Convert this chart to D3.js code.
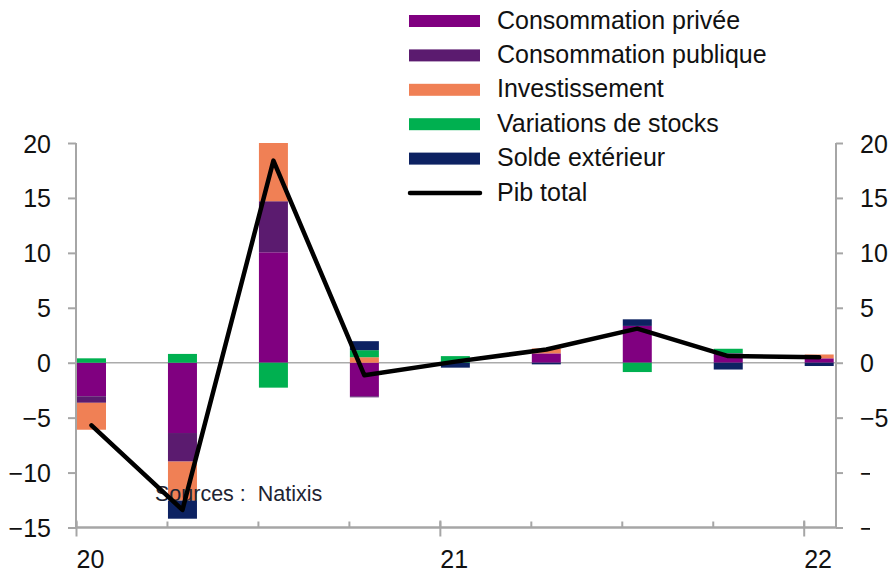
<!DOCTYPE html>
<html>
<head>
<meta charset="utf-8">
<script src="https://cdn.jsdelivr.net/npm/d3@7"></script>
<style>
  body { margin: 0; background: #fff; }
  svg { display: block; }
  text { font-family: "Liberation Sans", Arial, sans-serif; }
</style>
</head>
<body>
<svg id="chart" width="895" height="576"></svg>
<script>
// Contributions à la croissance du PIB (points de %), par trimestre
const quarters = ["2020T1","2020T2","2020T3","2020T4","2021T1","2021T2","2021T3","2021T4","2022T1"];
const consoPrivee      = [-3.05, -6.4, 10.05, -3.05,  0.0,  0.85,  3.35,  0.85,  0.4];
const consoPublique    = [-0.6,  -2.6,  4.65, -0.1,   0.0,  0.0,   0.0,   0.0,   0.0];
const investissement   = [-2.45, -3.55, 5.9,   0.5,   0.0,  0.45,  0.0,   0.0,   0.35];
const variationsStocks = [ 0.4,   0.8, -2.27,  0.64,  0.6,  0.0,  -0.85,  0.42,  0.0];
const soldeExterieur   = [ 0.0,  -1.65, 0.0,   0.82, -0.45, -0.15, 0.6,  -0.62, -0.3];
const pibTotal         = [-5.7, -13.4, 18.4,  -1.15,  0.1,  1.2,   3.1,   0.6,   0.5];

const yTicks = [-15, -10, -5, 0, 5, 10, 15, 20];
const yearTicks = [0, 4, 8];
const yearLabels = ["20", "21", "22"];
const seriesNames = ["Consommation privée", "Consommation publique", "Investissement", "Variations de stocks", "Solde extérieur"];
const lineName = "Pib total";
const sourceText = "Sources :  Natixis";
const colors = ["#800080", "#5b1b6f", "#f08055", "#00b050", "#0d2262"];

const seriesValues = [consoPrivee, consoPublique, investissement, variationsStocks, soldeExterieur];

const svg = d3.select("#chart");
const plot = { left: 76, right: 836, top: 143, bottom: 527.5 };
const fontSize = 25;
const axisColor = "#a6a6a6";

// quarter index -> x (each tick marks the start of a quarter)
const x = d3.scaleLinear().domain([0, 8.355]).range([plot.left, plot.right]);
const y = d3.scaleLinear().domain([-15, 20]).range([plot.bottom, plot.top]);
const barOffset = 1, barWidth = 29;

// stacked table, positives up / negatives down in series order
const table = quarters.map((q, i) => {
  const row = { q, i };
  seriesNames.forEach((s, k) => row[s] = seriesValues[k][i]);
  return row;
});
const stack = d3.stack().keys(seriesNames).offset(d3.stackOffsetDiverging);
const layers = stack(table);

svg.append("clipPath").attr("id", "plotClip")
  .append("rect")
  .attr("x", plot.left).attr("y", plot.top)
  .attr("width", plot.right - plot.left).attr("height", plot.bottom - plot.top);

// zero line
svg.append("line")
  .attr("x1", plot.left).attr("x2", plot.right)
  .attr("y1", y(0)).attr("y2", y(0))
  .attr("stroke", "#ababab").attr("stroke-width", 1.6);

// bars
const barsG = svg.append("g").attr("clip-path", "url(#plotClip)");
layers.forEach((layer, k) => {
  barsG.append("g").attr("fill", colors[k])
    .selectAll("rect")
    .data(layer.filter(d => Math.abs(d[1] - d[0]) > 1e-9))
    .join("rect")
    .attr("x", d => x(d.data.i) + barOffset)
    .attr("width", barWidth)
    .attr("y", d => y(Math.max(d[0], d[1])))
    .attr("height", d => Math.abs(y(d[0]) - y(d[1])));
});

// source note
svg.append("text")
  .attr("x", 155).attr("y", 500.5)
  .attr("font-size", 21.5).attr("fill", "#1e2433")
  .attr("xml:space", "preserve")
  .style("white-space", "pre")
  .text(sourceText);

// left and right value axes
const leftAxis = svg.append("g")
  .attr("transform", `translate(${plot.left},0)`)
  .call(d3.axisLeft(y).tickValues(yTicks).tickSize(8).tickPadding(17).tickFormat(d3.format("d")));
const rightAxis = svg.append("g")
  .attr("transform", `translate(${plot.right},0)`)
  .call(d3.axisRight(y).tickValues(yTicks).tickSize(7).tickPadding(17).tickFormat(d3.format("d")));

[leftAxis, rightAxis].forEach(g => {
  g.select(".domain").attr("stroke", axisColor).attr("stroke-width", 2)
    .attr("d", `M0,${plot.top}V${plot.bottom}`);
  g.selectAll(".tick line").attr("stroke", axisColor).attr("stroke-width", 2);
  g.selectAll(".tick text")
    .attr("font-size", fontSize).attr("fill", "#111")
    .attr("font-family", "'Liberation Sans', Arial, sans-serif")
    .attr("dy", "0.36em");
});

// bottom axis: quarter ticks inside, year ticks across with labels
const minorAxis = svg.append("g")
  .attr("transform", `translate(0,${plot.bottom})`)
  .call(d3.axisBottom(x).tickValues(d3.range(0, 9)).tickSize(-6).tickFormat(""));
minorAxis.select(".domain").attr("stroke", axisColor).attr("stroke-width", 2.5)
  .attr("d", `M${plot.left},0H${plot.right}`);
minorAxis.selectAll(".tick line").attr("stroke", axisColor).attr("stroke-width", 2);

const yearAxis = svg.append("g")
  .attr("transform", `translate(0,${plot.bottom})`)
  .call(d3.axisBottom(x).tickValues(yearTicks).tickSize(9).tickPadding(14)
    .tickFormat((d, i) => yearLabels[i]));
yearAxis.select(".domain").remove();
yearAxis.selectAll(".tick line").attr("stroke", axisColor).attr("stroke-width", 2).attr("y1", -7);
yearAxis.selectAll(".tick text")
  .attr("font-size", fontSize).attr("fill", "#111")
  .attr("font-family", "'Liberation Sans', Arial, sans-serif")
  .attr("text-anchor", "start").attr("x", 0).attr("dy", "0.71em");

// total GDP line
const line = d3.line()
  .x((d, i) => x(i) + barOffset + barWidth / 2)
  .y(d => y(d));
svg.append("path")
  .datum(pibTotal)
  .attr("d", line)
  .attr("fill", "none")
  .attr("stroke", "#000")
  .attr("stroke-width", 4.5)
  .attr("stroke-linejoin", "round")
  .attr("stroke-linecap", "round");

// legend
const legend = svg.append("g");
const rowY = i => 21 + i * 34.4;
seriesNames.forEach((name, i) => {
  legend.append("rect")
    .attr("x", 409).attr("y", rowY(i) - 6)
    .attr("width", 71).attr("height", 12)
    .attr("fill", colors[i]);
  legend.append("text")
    .attr("x", 497).attr("y", rowY(i) + 7.5)
    .attr("font-size", fontSize).attr("fill", "#111")
    .text(name);
});
legend.append("line")
  .attr("x1", 410).attr("x2", 480)
  .attr("y1", rowY(5)).attr("y2", rowY(5))
  .attr("stroke", "#000").attr("stroke-width", 4.5).attr("stroke-linecap", "round");
legend.append("text")
  .attr("x", 497).attr("y", rowY(5) + 7.5)
  .attr("font-size", fontSize).attr("fill", "#111")
  .text(lineName);

// white panel over the lower right corner
svg.append("rect")
  .attr("x", 870).attr("y", 464)
  .attr("width", 30).attr("height", 120)
  .attr("fill", "#fff");
</script>
</body>
</html>
